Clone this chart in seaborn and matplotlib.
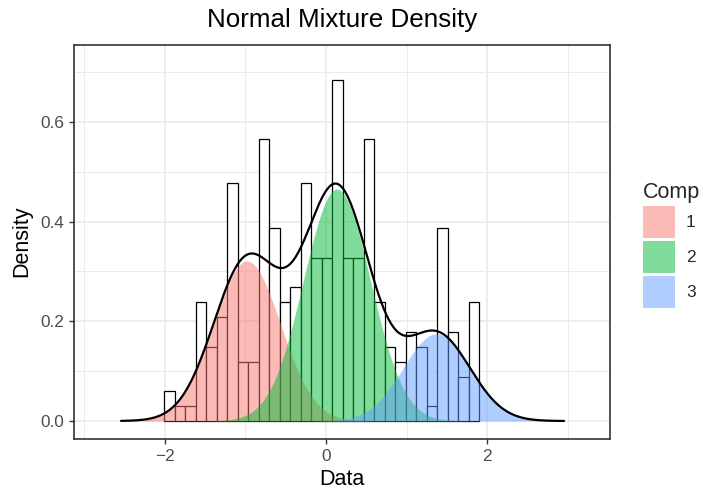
import numpy as np
import pandas as pd
import matplotlib
matplotlib.use("Agg")
import matplotlib.pyplot as plt
import seaborn as sns
from matplotlib.patches import Patch
from matplotlib.ticker import FixedLocator

# ---------------- data ----------------
# Histogram on density scale, 30 equal bins
bin_start = -2.005
bin_width = 0.1302
bar_density = [0.060, 0.030, 0.030, 0.238, 0.149, 0.209, 0.477, 0.119, 0.119, 0.566,
               0.387, 0.238, 0.268, 0.477, 0.328, 0.328, 0.685, 0.328, 0.328, 0.566,
               0.238, 0.149, 0.119, 0.179, 0.149, 0.030, 0.387, 0.179, 0.089, 0.238]

# Fitted normal mixture components
comp_labels = ["1", "2", "3"]
comp_lambda = [0.334, 0.484, 0.182]
comp_mu = [-0.98, 0.135, 1.37]
comp_sigma = [0.415, 0.415, 0.415]
comp_colors = ["#F8766D", "#00BA38", "#619CFF"]

curve_from = -2.54
curve_to = 2.95

x_ticks = [-2, 0, 2]
x_minor = [-3, -1, 1, 3]
y_ticks = [0.0, 0.2, 0.4, 0.6]
y_minor = [0.1, 0.3, 0.5, 0.7]

title = "Normal Mixture Density"
x_label = "Data"
y_label = "Density"
legend_title = "Comp"

# ---------------- figure ----------------
sns.set_theme(style="white")
plt.rcParams['font.family'] = ['Liberation Sans', 'DejaVu Sans']

W, H = 703, 493
fig = plt.figure(figsize=(W / 100, H / 100), dpi=100)
left, right, top, bottom = 74.3, 610.0, 44.7, 438.7
ax = fig.add_axes([left / W, 1 - bottom / H, (right - left) / W, (bottom - top) / H])

n_bins = len(bar_density)
edges = bin_start + bin_width * np.arange(n_bins + 1)
centers = (edges[:-1] + edges[1:]) / 2
hist_df = pd.DataFrame({"x": centers, "w": bar_density})
sns.histplot(data=hist_df, x="x", weights="w", binwidth=bin_width,
             binrange=(float(edges[0]), float(edges[-1])), stat="count",
             color="white", edgecolor="black", linewidth=0.9, alpha=1,
             ax=ax, zorder=2)

xs = np.linspace(curve_from, curve_to, 800)
total = np.zeros_like(xs)
for lab, lam, mu, sd, col in zip(comp_labels, comp_lambda, comp_mu, comp_sigma, comp_colors):
    dens = lam * np.exp(-0.5 * ((xs - mu) / sd) ** 2) / (sd * np.sqrt(2 * np.pi))
    total += dens
    ax.fill_between(xs, 0, dens, color=col, alpha=0.5, linewidth=0, zorder=3)
sns.lineplot(x=xs, y=total, color="black", linewidth=1.6, ax=ax, zorder=4)

ax.set_xlim(-3.12, 3.52)
ax.set_ylim(-0.0355, 0.755)
ax.xaxis.set_major_locator(FixedLocator(x_ticks))
ax.xaxis.set_minor_locator(FixedLocator(x_minor))
ax.yaxis.set_major_locator(FixedLocator(y_ticks))
ax.yaxis.set_minor_locator(FixedLocator(y_minor))
ax.set_xticklabels([f"{t:g}".replace("-", "\u2212") for t in x_ticks])
ax.set_yticklabels([f"{t:.1f}" for t in y_ticks])

ax.set_axisbelow(True)
ax.grid(which="major", color="#EBEBEB", linewidth=1.2, zorder=0)
ax.grid(which="minor", color="#EBEBEB", linewidth=0.7, zorder=0)
for s in ax.spines.values():
    s.set_visible(True)
    s.set_color("#333333")
    s.set_linewidth(1.2)

ax.tick_params(which="major", bottom=True, left=True, direction="out", length=3.9,
               width=1.0, color="#333333", labelsize=12.4, labelcolor="#4D4D4D", pad=3.3)
ax.tick_params(which="minor", bottom=False, left=False, length=0)

ax.set_xlabel(x_label, fontsize=15.5, color="black", labelpad=4)
ax.set_ylabel(y_label, fontsize=15.5, color="black", labelpad=6)
fig.text((left + right) / 2 / W, 1 - 26.7 / H, title, ha="center", va="baseline",
         fontsize=18.7, color="black")

handles = [Patch(facecolor=c, alpha=0.5, edgecolor="none") for c in comp_colors]
leg = fig.legend(handles, comp_labels, title=legend_title, loc="upper left",
                 bbox_to_anchor=(643 / W, 1 - 182 / H), frameon=False,
                 fontsize=12.4, title_fontsize=15.5, borderpad=0, borderaxespad=0,
                 handlelength=1.84, handleheight=2.485, labelspacing=0.17,
                 handletextpad=0.65, alignment="left")

fig.savefig("out.png", dpi=100)
